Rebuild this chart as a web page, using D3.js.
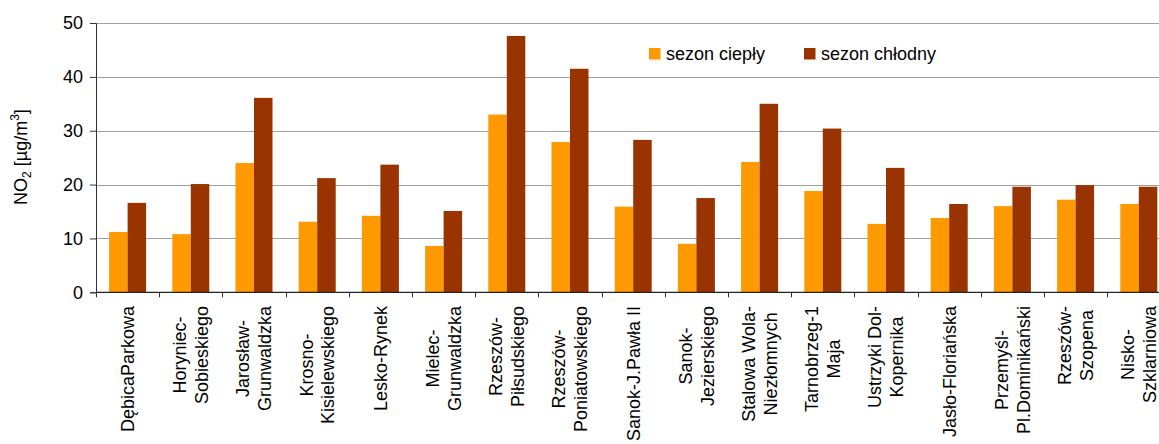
<!DOCTYPE html>
<html>
<head>
<meta charset="utf-8">
<script src="https://cdn.jsdelivr.net/npm/d3@7"></script>
<style>
  body { margin: 0; background: #fff; }
  svg { display: block; font-family: "Liberation Sans", Arial, sans-serif; }
</style>
</head>
<body>
<svg id="chart" width="1159" height="444"></svg>
<script>
// stations (line breaks as in the original labels)
let stations = [
  'DębicaParkowa', 'Horyniec-\nSobieskiego', 'Jarosław-\nGrunwaldzka', 'Krosno-\nKisielewskiego',
  'Lesko-Rynek', 'Mielec-\nGrunwaldzka', 'Rzeszów-\nPiłsudskiego', 'Rzeszów-\nPoniatowskiego',
  'Sanok-J.Pawła II', 'Sanok-\nJezierskiego', 'Stalowa Wola-\nNiezłomnych', 'Tarnobrzeg-1\nMaja',
  'Ustrzyki Dol-\nKopernika', 'Jasło-Floriańska', 'Przemyśl-\nPl.Dominikański', 'Rzeszów-\nSzopena',
  'Nisko-\nSzklarniowa'
]
let warm = [11.2, 10.8, 24.0, 13.1, 14.2, 8.6, 33.0, 27.9, 15.9, 9.0, 24.2, 18.8, 12.7, 13.8, 16.0, 17.2, 16.4]
let cold = [16.6, 20.1, 36.1, 21.2, 23.7, 15.1, 47.6, 41.5, 28.3, 17.5, 35.0, 30.4, 23.1, 16.4, 19.6, 19.9, 19.6]
let seriesNames = ['sezon ciepły', 'sezon chłodny']
let seriesColors = ['#ff9900', '#993300']
let yTicks = [0, 10, 20, 30, 40, 50]

let svg = d3.select('#chart')
let plotLeft = 96, plotTop = 23, plotBottom = 292.3
let catW = 63.2
let plotRight = plotLeft + catW * stations.length

let x = d3.scaleBand()
  .domain(d3.range(stations.length))
  .range([plotLeft, plotRight])
  .paddingInner(0).paddingOuter(0)

let y = d3.scaleLinear().domain([0, 50]).range([plotBottom, plotTop])

let barW = 18.5

// gridlines
svg.append('g')
  .selectAll('line')
  .data(yTicks.filter(d => d > 0))
  .enter()
  .append('line')
  .attr('x1', plotLeft).attr('x2', 1159)
  .attr('y1', d => Math.round(y(d)) + 0.5).attr('y2', d => Math.round(y(d)) + 0.5)
  .attr('stroke', '#a0a0a0').attr('stroke-width', 1)

// bars
let series = [warm, cold]
series.forEach((vals, s) => {
  svg.append('g')
    .selectAll('rect')
    .data(vals)
    .enter()
    .append('rect')
    .attr('x', (d, i) => x(i) + x.bandwidth() / 2 - barW + s * barW)
    .attr('y', d => y(d))
    .attr('width', barW)
    .attr('height', d => y(0) - y(d))
    .attr('fill', seriesColors[s])
})

// y axis
let yAxis = svg.append('g')
  .attr('transform', `translate(${plotLeft},0)`)
  .call(d3.axisLeft(y).tickValues(yTicks).tickSize(6).tickPadding(7).tickFormat(d3.format('d')))
yAxis.select('.domain').attr('stroke', '#333')
yAxis.selectAll('.tick line').attr('stroke', '#333')
yAxis.selectAll('text').attr('font-size', 18).attr('fill', '#000')
  .attr('font-family', '"Liberation Sans", Arial, sans-serif')

// x axis line and boundary ticks
svg.append('line')
  .attr('x1', plotLeft).attr('x2', 1159)
  .attr('y1', plotBottom).attr('y2', plotBottom)
  .attr('stroke', '#222').attr('stroke-width', 1.2)
svg.append('g')
  .selectAll('line')
  .data(d3.range(stations.length + 1))
  .enter()
  .append('line')
  .attr('x1', i => Math.round(plotLeft + i * catW) + 0.5)
  .attr('x2', i => Math.round(plotLeft + i * catW) + 0.5)
  .attr('y1', plotBottom).attr('y2', plotBottom + 5)
  .attr('stroke', '#333')

// rotated category labels, lines centred in a block hanging from the axis
let labelTop = 306
let lineH = 22
let labels = svg.append('g').attr('font-size', 18).attr('fill', '#000')
stations.forEach((name, i) => {
  let lines = name.split('\n')
  let g = labels.append('g')
    .attr('transform', `translate(${x(i) + x.bandwidth() / 2},${labelTop}) rotate(-90)`)
  let texts = lines.map((ln, j) => g.append('text')
    .attr('text-anchor', 'end')
    .attr('y', (j - (lines.length - 1) / 2) * lineH + 6.3)
    .text(ln))
  let lens = texts.map(t => t.node().getComputedTextLength())
  let w = d3.max(lens)
  texts.forEach((t, j) => t.attr('x', -(w - lens[j]) / 2))
})

// y title
svg.append('text')
  .attr('transform', 'translate(27,157) rotate(-90)')
  .attr('text-anchor', 'middle')
  .attr('font-size', 18)
  .html('NO<tspan font-size="12" dy="4">2</tspan><tspan dy="-4"> [µg/m</tspan><tspan font-size="12" dy="-8">3</tspan><tspan dy="8">]</tspan>')

// legend
let legendX = [649, 804]
seriesNames.forEach((n, s) => {
  svg.append('rect')
    .attr('x', legendX[s]).attr('y', 48)
    .attr('width', 11.5).attr('height', 11.5)
    .attr('fill', seriesColors[s])
  svg.append('text')
    .attr('x', legendX[s] + 17).attr('y', 60)
    .attr('font-size', 18)
    .text(n)
})
</script>
</body>
</html>
